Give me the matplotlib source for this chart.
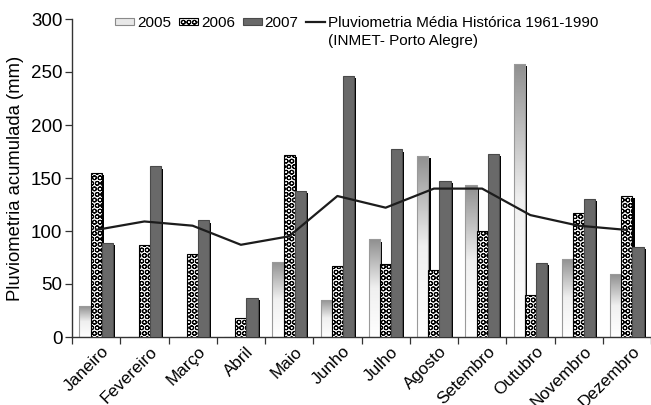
import numpy as np
import matplotlib
matplotlib.use("Agg")
import matplotlib.pyplot as plt
from matplotlib.patches import Patch, Rectangle
from matplotlib.lines import Line2D
from matplotlib.colors import LinearSegmentedColormap
import matplotlib.patheffects as pe
from matplotlib.transforms import ScaledTranslation

plt.rcParams['font.family'] = ['Liberation Sans', 'DejaVu Sans']
plt.rcParams['hatch.color'] = 'black'
plt.rcParams['hatch.linewidth'] = 0.75

months = ["Janeiro", "Fevereiro", "Março", "Abril", "Maio", "Junho", "Julho",
          "Agosto", "Setembro", "Outubro", "Novembro", "Dezembro"]
y2005 = [29, 0, 0, 0, 71, 35, 92, 171, 143, 258, 74, 59]
y2006 = [155, 87, 78, 18, 172, 67, 69, 63, 100, 40, 117, 133]
y2007 = [89, 161, 110, 37, 138, 246, 177, 147, 173, 70, 130, 85]
historica = [101, 109, 105, 87, 95, 133, 122, 140, 140, 115, 105, 101]
yticks = [0, 50, 100, 150, 200, 250, 300]

W, H = 651, 405
fig = plt.figure(figsize=(W/100, H/100), dpi=100)
ax = fig.add_axes([72/W, 1-337/H, (W-72)/W, (337-19)/H])

x = np.arange(len(months))
bw = 0.23
shadow = [pe.SimplePatchShadow(offset=(1.6, -1.6), shadow_rgbFace='black', alpha=1.0), pe.Normal()]
HATCH = 'OOO'

# 2005 gradient bars
cmap05 = LinearSegmentedColormap.from_list('g05', ['#ffffff', '#f0f0f0', '#8f8f8f'])
b05 = ax.bar(x - bw, y2005, bw, facecolor='white', edgecolor='none', zorder=2)
grad = np.linspace(0, 1, 256).reshape(-1, 1)
for r, v in zip(b05, y2005):
    r.set_path_effects(shadow)
    if v <= 0:
        r.set_visible(False)
        continue
    im = ax.imshow(grad, extent=(r.get_x(), r.get_x()+r.get_width(), 0, v), origin='lower',
                   aspect='auto', cmap=cmap05, zorder=2.1, interpolation='bilinear')
    im.set_clip_path(r)
ax.bar(x - bw, y2005, bw, facecolor='none', edgecolor='#9a9a9a', linewidth=0.8, zorder=2.2)

# 2006 patterned bars
b06 = ax.bar(x, y2006, bw, facecolor='white', edgecolor='black', hatch=HATCH, linewidth=0.8, zorder=3)
for r in b06:
    r.set_path_effects(shadow)

# 2007 dark bars
b07 = ax.bar(x + bw, y2007, bw, facecolor='#696969', edgecolor='#4a4a4a', linewidth=0.8, zorder=4)
for r in b07:
    r.set_path_effects(shadow)

ax.plot(x, historica, color='#1c1c1c', linewidth=1.6, zorder=5)

ax.set_xlim(-0.5, len(months)-0.5)
ax.set_ylim(0, 300)
ax.set_yticks(yticks)
ax.set_yticklabels([str(v) for v in yticks])
ax.set_xticks(np.arange(len(months)+1) - 0.5)
ax.set_xticklabels([])
ax.set_xticks(x, minor=True)
ax.set_xticklabels(months, minor=True, rotation=45, ha='right', va='top', rotation_mode='anchor')
ax.tick_params(axis='x', which='minor', length=0, pad=5, labelsize=12.3)
ax.tick_params(axis='x', which='major', length=5, width=0.9, direction='out', color='#333333')
ax.tick_params(axis='y', length=5, width=0.9, direction='out', labelsize=13.5, pad=2, color='#333333')
for lab in ax.get_xticklabels(minor=True):
    lab.set_transform(lab.get_transform() + ScaledTranslation(0.05, 0, fig.dpi_scale_trans))
for s in ['top', 'right']:
    ax.spines[s].set_visible(False)
for s in ['left', 'bottom']:
    ax.spines[s].set_color('#333333')
    ax.spines[s].set_linewidth(1.0)
ax.set_ylabel('Pluviometria acumulada (mm)', fontsize=13.3, labelpad=5)

handles = [Patch(facecolor='#e8e8e8', edgecolor='#8a8a8a', linewidth=0.8),
           Patch(facecolor='white', edgecolor='black', hatch=HATCH, linewidth=0.8),
           Patch(facecolor='#696969', edgecolor='#4a4a4a', linewidth=0.8),
           Line2D([], [], color='#1c1c1c', linewidth=1.6)]
labels = ['2005', '2006', '2007', 'Pluviometria Média Histórica 1961-1990']
leg = fig.legend(handles, labels, loc='upper left', bbox_to_anchor=(115/W, 1-16/H), ncol=4,
                 frameon=False, fontsize=11, handlelength=1.25, handleheight=0.35,
                 handletextpad=0.2, columnspacing=0.5, borderpad=0, borderaxespad=0)
fig.canvas.draw()
bb = leg.get_texts()[3].get_window_extent()
fig.text(bb.x0/W, (bb.y0 - 4)/H, '(INMET- Porto Alegre)', fontsize=11, ha='left', va='top')

fig.savefig('out.png', dpi=100)
